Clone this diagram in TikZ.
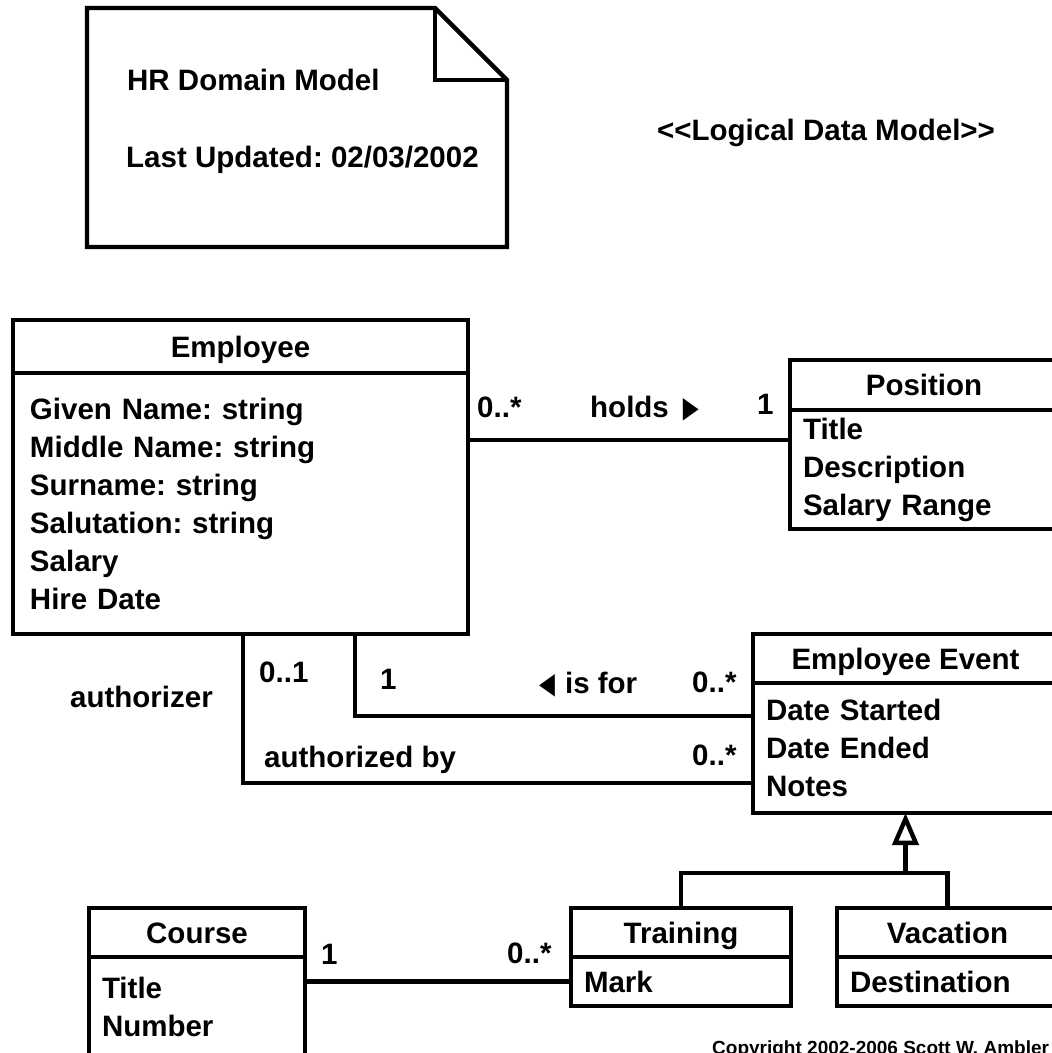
\documentclass[tikz,border=0pt]{standalone}
\usepackage{fontspec}
\setmainfont{Liberation Sans}
\newfontfamily\symfont{DejaVu Sans}
\usetikzlibrary{positioning}
\usetikzlibrary{arrows.meta}
\newcommand{\rtri}{{\symfont\scalebox{0.7}[1]{▶}}}
\newcommand{\ltri}{{\symfont\scalebox{0.7}[1]{◀}}}

\begin{document}
\frenchspacing
\begin{tikzpicture}[x=1pt, y=-1pt, line width=4.4pt,
		every node/.style={font=\fontsize{29.5}{38}\selectfont\bfseries},
		classhead/.style={draw, inner sep=0pt, outer sep=0pt, text height=21pt, text depth=0pt},
		classbody/.style={draw, align=left, inner xsep=13pt, inner ysep=0pt, outer sep=0pt},
		lbl/.style={inner sep=0pt, anchor=west, text height=21pt, text depth=0pt},
		gen/.style={-{Triangle[open, length=32pt, width=26pt]}}]
			\useasboundingbox (0,0) rectangle (1052,1053);
			% note
			\draw (87,8) -- (435,8) -- (507,80) -- (507,247) -- (87,247) -- cycle;
			\draw (435,8) -- (435,80) -- (507,80);
			\node[lbl] (noteTitle) at (125,80) {HR Domain Model};
			\node[lbl] (noteDate) at (124,157) {Last Updated: 02/03/2002};
			\node[lbl] (stereo) at (655,130) {<\kern0pt<Logical Data Model>\kern0pt>};
			% classes
			\node[classhead, minimum width=455pt, minimum height=53pt, anchor=north west] (employee) at (13,320) {Employee};
			\node[classbody, below=0pt of employee, inner xsep=17pt, text width=421pt, minimum height=261pt] (employeeAttr) {Given Name: string\\Middle Name: string\\Surname: string\\Salutation: string\\Salary\\Hire Date};
			\node[classhead, minimum width=268pt, minimum height=50pt, anchor=north west] (position) at (790,360) {Position};
			\node[classbody, below=0pt of position, text width=242pt, minimum height=119pt] (positionAttr) {Title\\Description\\Salary Range};
			\node[classhead, minimum width=305pt, minimum height=49pt, anchor=north west] (event) at (753,634) {Employee Event};
			\node[classbody, below=0pt of event, text width=279pt, minimum height=130pt] (eventAttr) {Date Started\\Date Ended\\Notes};
			\node[classhead, minimum width=220pt, minimum height=49pt, anchor=north west] (training) at (571,908) {Training};
			\node[classbody, below=0pt of training, text width=194pt, minimum height=49pt] (trainingAttr) {Mark};
			\node[classhead, minimum width=221pt, minimum height=49pt, anchor=north west] (vacation) at (837,908) {Vacation};
			\node[classbody, below=0pt of vacation, text width=195pt, minimum height=49pt] (vacationAttr) {Destination};
			\node[classhead, minimum width=216pt, minimum height=49pt, anchor=north west] (course) at (89,908) {Course};
			\node[classbody, below=0pt of course, text width=190pt, minimum height=100pt] (courseAttr) {Title\\Number};
			% associations
			\coordinate (holdsEnd) at ([yshift=-30pt]positionAttr.north west);
			\draw (holdsEnd) -- (holdsEnd -| employeeAttr.east);
			\coordinate (isforEnd) at ([yshift=-33pt]eventAttr.north west);
			\draw ([xshift=342pt]employeeAttr.south west) |- (isforEnd);
			\coordinate (authEnd) at ([yshift=-100pt]eventAttr.north west);
			\draw ([xshift=230pt]employeeAttr.south west) |- (authEnd);
			\draw (trainingAttr.west) -- (trainingAttr.west -| courseAttr.east);
			% generalization
			\coordinate (genJoint) at ([yshift=-60pt]eventAttr.south);
			\draw (training.north) |- (genJoint) -| (vacation.north);
			\draw[gen] (genJoint) -- (eventAttr.south);
			% labels
			\node[lbl] (holdsMany) at (475,407) {0..*};
			\node[lbl] (holds) at (588,407) {holds\hspace{14pt}\rtri};
			\node[lbl] (holdsOne) at (755,404) {1};
			\node[lbl] (authOne) at (257,672) {0..1};
			\node[lbl] (isforOne) at (378,679) {1};
			\node[lbl] (isfor) at (537,683) {\ltri\hspace{10pt}is for};
			\node[lbl] (isforMany) at (690,682) {0..*};
			\node[lbl] (authorizer) at (68,697) {authorizer};
			\node[lbl] (authorized) at (262,757) {authorized by};
			\node[lbl] (authMany) at (690,755) {0..*};
			\node[lbl] (courseOne) at (319,954) {1};
			\node[lbl] (courseMany) at (505,953) {0..*};
			\node[inner sep=0pt, anchor=base west, font=\fontsize{19}{23}\selectfont\bfseries] (copyright) at (710,1054) {Copyright 2002-2006 Scott W. Ambler};
		\end{tikzpicture}
\end{document}
